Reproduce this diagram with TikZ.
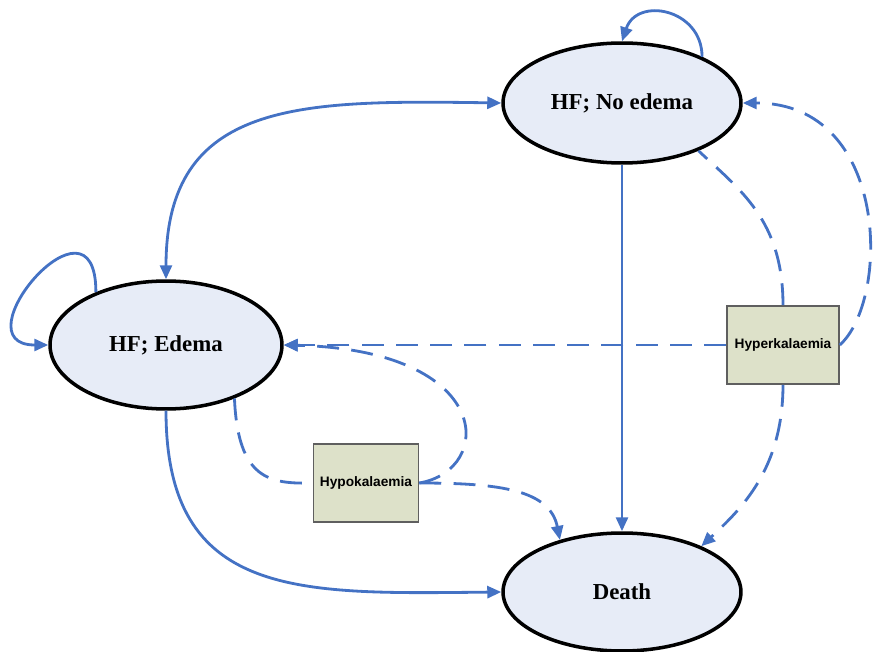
\documentclass[tikz,border=0pt]{standalone}
\usepackage{fontspec}
\setmainfont{Liberation Serif}
\newfontfamily\boxfont{Liberation Sans}
\usepackage{tikz}
\usetikzlibrary{shapes.geometric,arrows.meta,positioning}
\definecolor{lineblue}{RGB}{68,114,196}
\definecolor{statefill}{RGB}{231,236,247}
\definecolor{boxfill}{RGB}{221,225,201}
\definecolor{boxgray}{RGB}{95,95,95}

\begin{document}
\begin{tikzpicture}[
    x=0.02cm, y=-0.02cm,
    >={Triangle[length=2.8mm,width=2.4mm]},
    state/.style={ellipse, draw=black, line width=2pt, fill=statefill, minimum width=4.76cm, minimum height=2.4cm, inner sep=0pt, font=\fontsize{13}{15}\selectfont\bfseries},
    risk/.style={rectangle, draw=boxgray, line width=0.9pt, fill=boxfill, minimum width=2.2cm, minimum height=1.56cm, inner sep=0pt, font=\boxfont\fontsize{7.8}{9}\selectfont\bfseries},
    trans/.style={->, line width=1.6pt, lineblue},
    dtrans/.style={trans, dash pattern=on 12.5pt off 7pt},
    link/.style={line width=1.6pt, lineblue, dash pattern=on 12.5pt off 7pt}
]
    \useasboundingbox (0,0) rectangle (873,652);

    % States
    \node[state] (noedema) at (622,103) {HF; No edema};
    \node[state, minimum width=4.64cm, minimum height=2.56cm] (edema) at (166,345) {HF; Edema};
    \node[state, minimum height=2.36cm] (death) at (622,592) {Death};

    % Risk boxes
    \node[risk, minimum width=2.24cm] (hyper) at (783,345) {Hyperkalaemia};
    \node[risk, minimum width=2.1cm] (hypo) at (366,483) {Hypokalaemia};

    % Self loops
    \draw[trans] (noedema.30) .. controls +(0,-48) and +(15,-45) .. (noedema.north);
    \draw[trans] (edema.143) .. controls +(0,-112) and +(-92,0) .. (edema.west);

    % Between states
    \draw[trans, <->] (edema.north) .. controls (166,100) and (300,100) .. (noedema.west);
    \draw[trans] (noedema.south) -- (death.north);
    \draw[trans] (edema.south) .. controls (166,600) and (300,594) .. (death.west);

    % Hyperkalaemia
    \draw[dtrans] (hyper.west) -- (edema.east);
    \draw[link] (hyper.north) .. controls (783,220) and (740,190) .. (noedema.-32);
    \draw[dtrans] (hyper.east) .. controls (890,300) and (890,103) .. (noedema.east);
    \draw[dtrans] (hyper.south) .. controls (783,470) and (740,510) .. (death.30);

    % Hypokalaemia
    \draw[link] (edema.-38) .. controls (238,480) and (270,484) .. (hypo.west);
    \draw[dtrans] (hypo.east) .. controls (495,470) and (495,350) .. (edema.east);
    \draw[dtrans] (hypo.east) .. controls (500,483) and (550,490) .. (death.140);

\end{tikzpicture}
\end{document}
